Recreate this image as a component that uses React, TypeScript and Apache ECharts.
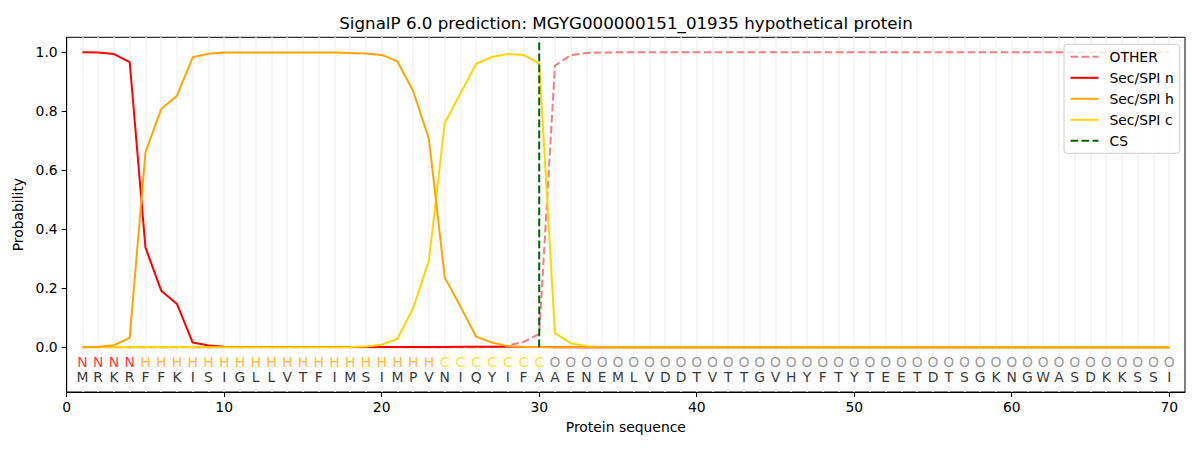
import React, { useEffect, useRef } from "react";
import * as echarts from "echarts";

const titleText = "SignalP 6.0 prediction: MGYG000000151_01935 hypothetical protein";
const xAxisLabel = "Protein sequence";
const yAxisLabel = "Probability";

const sequence = "MRKRFFKISIGLLVTFIMSIMPVNIQYIFAAENEMLVDDTVTTGVHYFTYTEETDTSGKNGWASDKKSSI".split("");
const regionLabels = "NNNNHHHHHHHHHHHHHHHHHHHCCCCCCCOOOOOOOOOOOOOOOOOOOOOOOOOOOOOOOOOOOOOOOO".split("");

const legendNames = ["OTHER", "Sec/SPI n", "Sec/SPI h", "Sec/SPI c", "CS"];

const otherProb = [
  0, 0, 0, 0, 0, 0, 0, 0, 0, 0,
  0, 0, 0, 0, 0, 0, 0, 0, 0, 0,
  0, 0, 0, 0, 0, 0, 0.001, 0.006, 0.018, 0.045,
  0.955, 0.99, 0.998, 0.999, 1, 1, 1, 1, 1, 1,
  1, 1, 1, 1, 1, 1, 1, 1, 1, 1,
  1, 1, 1, 1, 1, 1, 1, 1, 1, 1,
  1, 1, 1, 1, 1, 1, 1, 1, 1, 1,
];
const nProb = [
  1.0, 0.999, 0.994, 0.967, 0.338, 0.192, 0.147, 0.016, 0.006, 0.002,
  0.001, 0.001, 0.001, 0.001, 0.001, 0.001, 0.001, 0.001, 0.001, 0.001,
  0.001, 0.001, 0.001, 0.001, 0.002, 0.002, 0.002, 0.002, 0.001, 0.001,
  0, 0, 0, 0, 0, 0, 0, 0, 0, 0,
  0, 0, 0, 0, 0, 0, 0, 0, 0, 0,
  0, 0, 0, 0, 0, 0, 0, 0, 0, 0,
  0, 0, 0, 0, 0, 0, 0, 0, 0, 0,
];
const hProb = [
  0.001, 0.002, 0.007, 0.032, 0.661, 0.808, 0.853, 0.983, 0.995, 0.999,
  0.999, 0.999, 0.999, 0.999, 0.999, 0.999, 0.999, 0.998, 0.996, 0.991,
  0.969, 0.868, 0.706, 0.237, 0.138, 0.036, 0.016, 0.004, 0.001, 0.001,
  0, 0, 0, 0, 0, 0, 0, 0, 0, 0,
  0, 0, 0, 0, 0, 0, 0, 0, 0, 0,
  0, 0, 0, 0, 0, 0, 0, 0, 0, 0,
  0, 0, 0, 0, 0, 0, 0, 0, 0, 0,
];
const cProb = [
  0, 0, 0, 0, 0, 0, 0, 0, 0, 0,
  0, 0, 0, 0, 0, 0, 0, 0.001, 0.003, 0.009,
  0.029, 0.133, 0.295, 0.76, 0.86, 0.961, 0.984, 0.994, 0.991, 0.962,
  0.048, 0.014, 0.004, 0.001, 0, 0, 0, 0, 0, 0,
  0, 0, 0, 0, 0, 0, 0, 0, 0, 0,
  0, 0, 0, 0, 0, 0, 0, 0, 0, 0,
  0, 0, 0, 0, 0, 0, 0, 0, 0, 0,
];
const csPosition = 30;
const csTop = 1.038;

const xTicks = [0, 10, 20, 30, 40, 50, 60, 70];
const yTicks = [0, 0.2, 0.4, 0.6, 0.8, 1.0];

const regionRowY = -0.049;
const sequenceRowY = -0.1;

const regionColors: Record<string, string> = {
  N: "#ff0000",
  H: "#ffa500",
  C: "#ffd700",
  O: "#808080",
};

const FONT = "DejaVu Sans";
const FS = 13.9;
const DASH = [7.7, 3.3];

const toPoints = (arr: number[]) => arr.map((v, i) => [i + 1, v]);

export default function App() {
  const ref = useRef<HTMLDivElement>(null);
  useEffect(() => {
    if (!ref.current) return;
    const chart = echarts.init(ref.current, null, { renderer: "svg" });
    const lineSeries = (name: string, data: number[], color: string, z: number, dashed = false) => ({
      name,
      type: "line",
      data: toPoints(data),
      symbol: "none",
      z,
      lineStyle: { color, width: 2, type: dashed ? DASH : "solid" },
      itemStyle: { color },
      silent: true,
    });
    chart.setOption({
      animation: false,
      textStyle: { fontFamily: FONT },
      graphic: [
        {
          type: "text",
          x: 626,
          y: 23,
          style: {
            text: titleText,
            fill: "#000",
            font: `16.7px "${FONT}"`,
            textAlign: "center",
            textVerticalAlign: "middle",
          },
        },
      ],
      grid: {
        left: 66.7,
        top: 37.3,
        right: 15,
        bottom: 58,
        show: true,
        borderColor: "#000",
        borderWidth: 1,
        backgroundColor: "transparent",
      },
      legend: {
        data: legendNames,
        orient: "vertical",
        left: 1064,
        top: 44.3,
        padding: [5.5, 6, 5.5, 5.5],
        itemWidth: 28,
        itemHeight: 14,
        itemGap: 7,
        itemStyle: { opacity: 0 },
        backgroundColor: "rgba(255,255,255,0.8)",
        borderColor: "#cccccc",
        borderWidth: 1,
        borderRadius: 3,
        textStyle: { fontFamily: FONT, fontSize: FS, color: "#000", padding: [0, 0, 0, 6], lineHeight: 14 },
      },
      xAxis: [
        {
          type: "value",
          min: 0,
          max: 71,
          name: xAxisLabel,
          nameLocation: "middle",
          nameGap: 28,
          nameTextStyle: { fontFamily: FONT, fontSize: FS, color: "#000" },
          axisLine: { onZero: false, lineStyle: { color: "#000", width: 1 } },
          axisTick: { customValues: xTicks, length: 5, lineStyle: { color: "#000", width: 1 } },
          axisLabel: { customValues: xTicks, margin: 8, color: "#000", fontFamily: FONT, fontSize: FS },
          splitLine: { show: false },
        },
        {
          type: "value",
          min: 0,
          max: 71,
          interval: 1,
          position: "bottom",
          axisLine: { show: false },
          axisTick: { show: false },
          axisLabel: { show: false },
          splitLine: {
            show: true,
            showMinLine: false,
            showMaxLine: false,
            lineStyle: { color: "#f3f3f3", width: 1.5 },
          },
        },
      ],
      yAxis: {
        type: "value",
        min: -0.1515,
        max: 1.0508,
        name: yAxisLabel,
        nameLocation: "middle",
        nameGap: 34,
        nameTextStyle: { fontFamily: FONT, fontSize: FS, color: "#000" },
        axisLine: { show: true, onZero: false, lineStyle: { color: "#000", width: 1 } },
        axisTick: { show: true, customValues: yTicks, length: 5, lineStyle: { color: "#000", width: 1 } },
        axisLabel: {
          customValues: yTicks,
          margin: 9,
          color: "#000",
          fontFamily: FONT,
          fontSize: FS,
          formatter: (v: number) => v.toFixed(1),
        },
        splitLine: { show: false },
      },
      series: [
        lineSeries("OTHER", otherProb, "#f08080", 2, true),
        lineSeries("Sec/SPI n", nProb, "#ff0000", 3),
        lineSeries("Sec/SPI c", cProb, "#ffd700", 4),
        lineSeries("Sec/SPI h", hProb, "#ffa500", 5),
        {
          name: "CS",
          type: "line",
          data: [
            [csPosition, 0],
            [csPosition, csTop],
          ],
          symbol: "none",
          z: 6,
          silent: true,
          lineStyle: { color: "#006400", width: 2, type: DASH },
          itemStyle: { color: "#006400" },
        },
        {
          name: "regions",
          type: "scatter",
          symbolSize: 1,
          silent: true,
          z: 7,
          itemStyle: { color: "transparent" },
          data: regionLabels.map((r, i) => ({
            value: [i + 1, regionRowY],
            label: {
              show: true,
              position: "inside",
              formatter: r,
              color: regionColors[r],
              fontFamily: FONT,
              fontSize: FS,
            },
          })),
        },
        {
          name: "residues",
          type: "scatter",
          symbolSize: 1,
          silent: true,
          z: 7,
          itemStyle: { color: "transparent" },
          data: sequence.map((aa, i) => ({
            value: [i + 1, sequenceRowY],
            label: {
              show: true,
              position: "inside",
              formatter: aa,
              color: "#000",
              fontFamily: FONT,
              fontSize: FS,
            },
          })),
        },
      ],
    });
    return () => chart.dispose();
  }, []);
  return (
    <div
      ref={ref}
      style={{ position: "absolute", left: 0, top: 0, width: 1200, height: 450, background: "#fff" }}
    />
  );
}
